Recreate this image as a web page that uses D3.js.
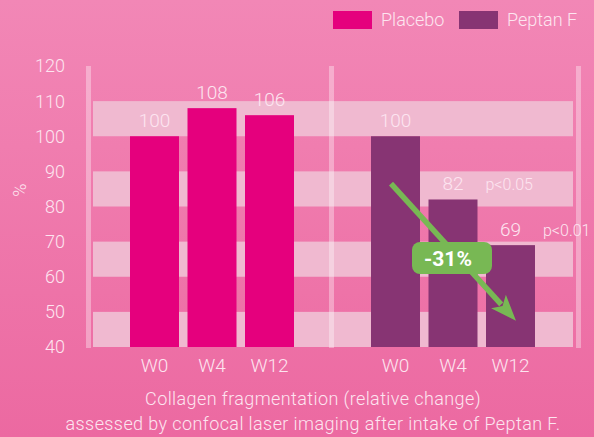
<!DOCTYPE html>
<html>
<head>
<meta charset="utf-8">
<script src="https://cdn.jsdelivr.net/npm/d3@7"></script>
<style>
  html, body { margin: 0; padding: 0; }
  body { width: 594px; height: 437px; overflow: hidden; }
  text { font-family: Roboto, "Open Sans", sans-serif; font-weight: 300; }
</style>
</head>
<body>
<div id="chart"></div>
<script>
// data
const groups = ['Placebo', 'Peptan F'];
const weeks = ['W0', 'W4', 'W12'];
const placeboValues = [100, 108, 106];
const peptanValues = [100, 82, 69];
const pValues = ['', 'p<0.05', 'p<0.01'];
const yTicks = [40, 50, 60, 70, 80, 90, 100, 110, 120];
const bandRanges = [[40, 50], [60, 70], [80, 90], [100, 110]];
const changeLabel = '-31%';
const captionLines = [
    'Collagen fragmentation (relative change)',
    'assessed by confocal laser imaging after intake of Peptan F.'
];

const colors = { 'Placebo': '#e5007d', 'Peptan F': '#873473' };
const textColor = '#fde5f0';

const width = 594, height = 437;

const svg = d3.select('#chart')
    .append('svg')
    .attr('width', width)
    .attr('height', height);

// background gradient
const defs = svg.append('defs');
const grad = defs.append('linearGradient')
    .attr('id', 'bg')
    .attr('x1', 0).attr('y1', 0).attr('x2', 0).attr('y2', 1);
grad.append('stop').attr('offset', '0%').attr('stop-color', '#f287b6');
grad.append('stop').attr('offset', '100%').attr('stop-color', '#ec69a1');
svg.append('rect')
    .attr('width', width).attr('height', height)
    .attr('fill', 'url(#bg)');

// scales
const y = d3.scaleLinear().domain([40, 120]).range([347, 66]);
const groupStart = d3.scaleOrdinal().domain(groups).range([125.75, 366.75]);
const xInner = d3.scaleBand().domain(weeks).range([0, 172.5]).paddingInner(0.148).paddingOuter(0.074);

// light bands
svg.append('g')
    .selectAll('rect')
    .data(bandRanges)
    .join('rect')
    .attr('x', 93)
    .attr('width', 480)
    .attr('y', d => y(d[1]))
    .attr('height', d => y(d[0]) - y(d[1]))
    .attr('fill', '#f0b9d0');

// vertical pillars
svg.append('g')
    .selectAll('rect')
    .data([86, 329, 576])
    .join('rect')
    .attr('x', d => d)
    .attr('width', 5)
    .attr('y', y(120))
    .attr('height', y(40) - y(120) + 1)
    .attr('fill', '#ffffff')
    .attr('opacity', 0.35);

// y axis labels
svg.append('g')
    .selectAll('text')
    .data(yTicks)
    .join('text')
    .attr('x', 65)
    .attr('y', d => y(d))
    .attr('dy', '0.36em')
    .attr('text-anchor', 'end')
    .attr('fill', textColor)
    .style('font-size', '18px')
    .text(d => d);

svg.append('text')
    .attr('transform', `translate(26,${190}) rotate(-90)`)
    .attr('text-anchor', 'middle')
    .attr('fill', textColor)
    .style('font-size', '18px')
    .text('%');

// bars
const series = [
    { group: 'Placebo', values: placeboValues },
    { group: 'Peptan F', values: peptanValues }
];

series.forEach(s => {
    const g = svg.append('g')
        .attr('transform', `translate(${groupStart(s.group)},0)`);
    const rows = weeks.map((w, i) => ({ week: w, value: s.values[i], p: s.group === 'Peptan F' ? pValues[i] : '' }));

    g.selectAll('rect')
        .data(rows)
        .join('rect')
        .attr('x', d => xInner(d.week))
        .attr('width', xInner.bandwidth())
        .attr('y', d => y(d.value))
        .attr('height', d => y(40) - y(d.value))
        .attr('fill', colors[s.group]);

    // value labels
    g.selectAll('text.val')
        .data(rows)
        .join('text')
        .attr('class', 'val')
        .attr('x', d => xInner(d.week) + xInner.bandwidth() / 2)
        .attr('y', d => y(d.value) - 9)
        .attr('text-anchor', 'middle')
        .attr('fill', textColor)
        .style('font-size', '19px')
        .text(d => d.value);

    // p values
    g.selectAll('text.p')
        .data(rows.filter(d => d.p))
        .join('text')
        .attr('class', 'p')
        .attr('x', d => xInner(d.week) + xInner.bandwidth() + 8)
        .attr('y', d => y(d.value) - 9)
        .attr('fill', textColor)
        .style('font-size', '16px')
        .text(d => d.p);

    // week labels
    g.selectAll('text.wk')
        .data(rows)
        .join('text')
        .attr('class', 'wk')
        .attr('x', d => xInner(d.week) + xInner.bandwidth() / 2)
        .attr('y', 372)
        .attr('text-anchor', 'middle')
        .attr('fill', textColor)
        .style('font-size', '19px')
        .text(d => d.week);
});

// arrow annotation
const pepX = w => groupStart('Peptan F') + xInner(w);
const arrowStart = [pepX('W0') + 20, y(86.5)];
const arrowEnd = [pepX('W12') + 30, y(47.5)];
const angle = Math.atan2(arrowEnd[1] - arrowStart[1], arrowEnd[0] - arrowStart[0]);
const headLen = 26, headW = 10;
const green = '#78b854';
const baseX = arrowEnd[0] - headLen * Math.cos(angle);
const baseY = arrowEnd[1] - headLen * Math.sin(angle);

svg.append('line')
    .attr('x1', arrowStart[0]).attr('y1', arrowStart[1])
    .attr('x2', baseX + 4 * Math.cos(angle)).attr('y2', baseY + 4 * Math.sin(angle))
    .attr('stroke', green)
    .attr('stroke-width', 5.5);

svg.append('path')
    .attr('d', d3.line()([
        arrowEnd,
        [baseX + headW * Math.sin(angle), baseY - headW * Math.cos(angle)],
        [baseX + 6 * Math.cos(angle), baseY + 6 * Math.sin(angle)],
        [baseX - headW * Math.sin(angle), baseY + headW * Math.cos(angle)]
    ]) + 'Z')
    .attr('fill', green);

// -31% badge
const badgeCx = 452, badgeCy = 258;
svg.append('rect')
    .attr('x', badgeCx - 40).attr('y', badgeCy - 16)
    .attr('width', 80).attr('height', 32)
    .attr('rx', 8)
    .attr('fill', green);
svg.append('text')
    .attr('x', badgeCx - 4).attr('y', badgeCy)
    .attr('dy', '0.36em')
    .attr('text-anchor', 'middle')
    .attr('fill', '#ffffff')
    .style('font-size', '21px')
    .style('font-weight', 700)
    .text(changeLabel);

// legend
const legend = svg.append('g');
const legendX = [333, 459];
groups.forEach((grp, i) => {
    legend.append('rect')
        .attr('x', legendX[i]).attr('y', 11)
        .attr('width', 39).attr('height', 18)
        .attr('fill', colors[grp]);
    legend.append('text')
        .attr('x', legendX[i] + 48).attr('y', 20)
        .attr('dy', '0.36em')
        .attr('fill', textColor)
        .style('font-size', '18px')
        .text(grp);
});

// caption
svg.append('g')
    .selectAll('text')
    .data(captionLines)
    .join('text')
    .attr('x', 313)
    .attr('y', (d, i) => 405 + i * 25)
    .attr('text-anchor', 'middle')
    .attr('fill', textColor)
    .style('font-size', '18px')
    .style('letter-spacing', '0.4px')
    .text(d => d);
</script>
</body>
</html>
